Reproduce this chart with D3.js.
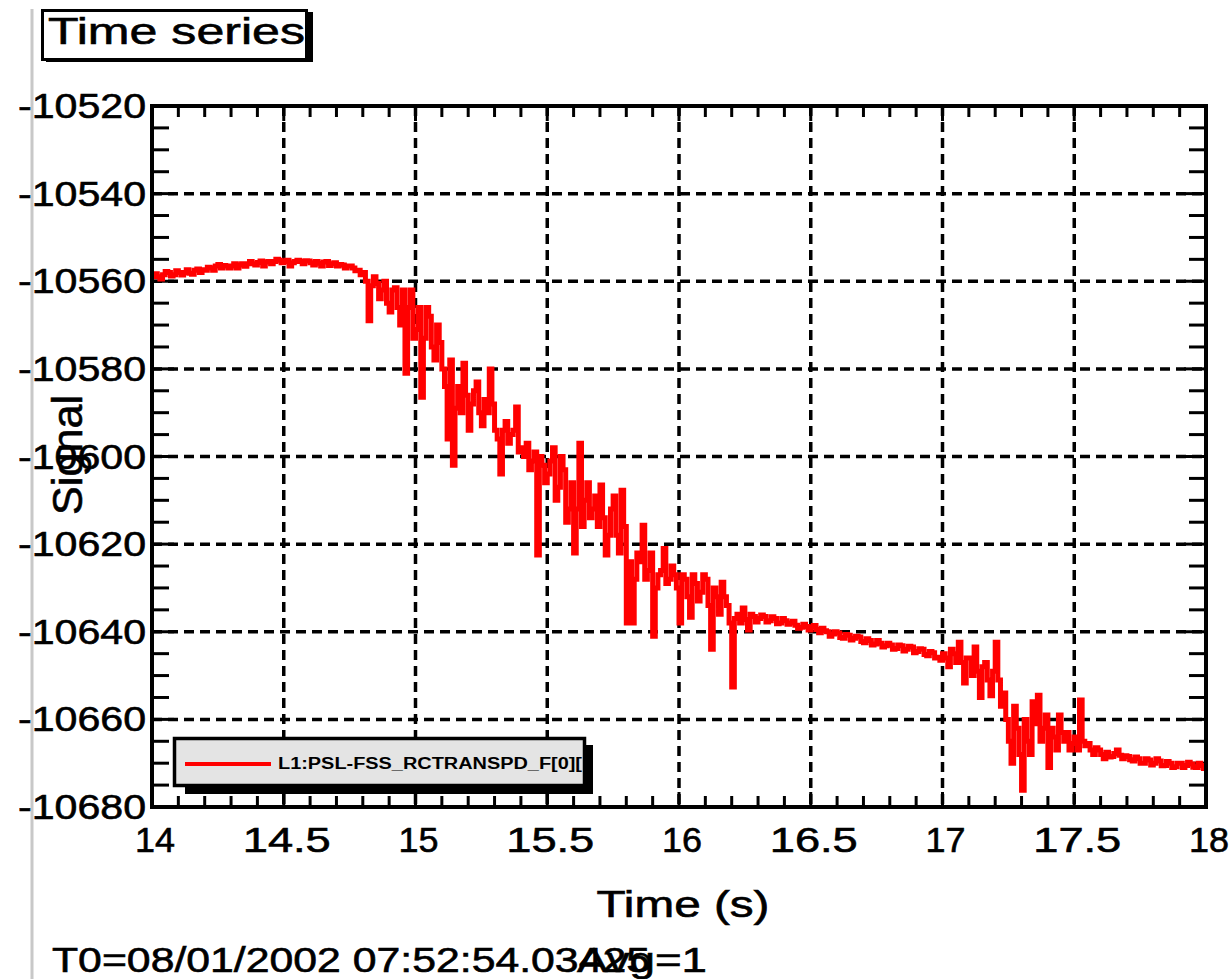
<!DOCTYPE html>
<html>
<head>
<meta charset="utf-8">
<script src="https://cdn.jsdelivr.net/npm/d3@7"></script>
<style>
  html, body { margin: 0; padding: 0; background: #fff; }
  svg { display: block; }
  text { font-family: "Liberation Sans", Arial, Helvetica, sans-serif; fill: #000; }
</style>
</head>
<body>
<svg id="chart" width="1230" height="979"></svg>
<script>
// ---------------- data ----------------
const titleText = "Time series";
const xTitle = "Time (s)";
const yTitle = "Signal";
const legendLabel = "L1:PSL-FSS_RCTRANSPD_F[0][";
const footerT0 = "T0=08/01/2002 07:52:54.03425";
const footerAvg = "Avg=1";

const xMajorTicks = [14, 14.5, 15, 15.5, 16, 16.5, 17, 17.5, 18];
const xTickLabels = ["14", "14.5", "15", "15.5", "16", "16.5", "17", "17.5", "18"];
const yMajorTicks = [-10520, -10540, -10560, -10580, -10600, -10620, -10640, -10660, -10680];
const yTickLabels = ["-10520", "-10540", "-10560", "-10580", "-10600", "-10620", "-10640", "-10660", "-10680"];

const tStart = 14.0;   // first sample time (s)
const tStep = 0.02;    // sample spacing (s)
// samples at tStart + i*tStep
const signal = [
  -10559, -10559, -10558.5, -10558, -10558.5, -10558, -10558, -10558.2, -10557.5, -10558,
  -10557.5, -10557, -10556.5, -10557, -10556.5, -10556.5, -10557, -10556, -10556, -10556,
  -10555.7, -10556.5, -10555.5, -10555.5, -10555.2, -10555.5, -10556.5, -10555.5, -10555.5, -10555.3,
  -10555.8, -10555.5, -10556.5, -10555.5, -10556, -10556.5, -10556.3, -10556.5, -10557, -10557.5,
  -10558, -10569, -10559, -10564, -10560, -10567, -10561.5, -10570, -10581, -10562,
  -10571, -10586.5, -10566, -10575, -10570, -10580, -10596, -10602, -10584, -10578.7,
  -10594, -10585, -10590, -10587, -10580, -10594, -10604, -10592, -10595, -10588.7,
  -10598, -10597, -10601, -10622.5, -10602, -10604, -10598, -10607, -10603, -10612,
  -10622, -10597, -10610, -10614, -10609, -10606.5, -10622.5, -10612, -10618, -10607.7,
  -10638, -10638, -10622, -10615.7, -10626, -10641, -10627, -10621, -10628, -10627,
  -10638, -10628, -10636.7, -10629, -10631, -10628, -10644, -10632, -10628.7, -10634,
  -10652.6, -10636, -10634.6, -10639.6, -10636.5, -10637, -10636.5, -10637.5, -10637, -10638,
  -10637.5, -10638, -10638.5, -10639, -10638.8, -10639, -10639.5, -10639.2, -10640, -10640.5,
  -10640.3, -10641.5, -10640.8, -10641.5, -10641.2, -10642.5, -10642, -10642.8, -10642.6, -10643.2,
  -10643, -10643.8, -10643.2, -10644, -10643.5, -10644.5, -10644, -10645.5, -10644.8, -10645.8,
  -10645, -10648, -10645, -10642.4, -10651.7, -10646, -10643.5, -10655, -10647, -10654.6,
  -10642.4, -10657, -10660, -10670, -10662, -10676.2, -10665, -10656, -10654.5, -10662,
  -10671, -10664, -10659, -10665, -10667, -10664, -10655.6, -10666, -10667, -10666.5,
  -10668, -10667.5, -10668.5, -10667, -10669, -10668.5, -10669.5, -10669, -10670, -10669.3,
  -10670, -10669.5, -10670.5, -10670, -10670.8, -10670, -10670.5, -10670.2, -10671, -10670.5,
  -10670.5
];
// in-between samples at tStart + (i+0.5)*tStep
const signalMid = [
  -10558.3, -10559.5, -10557.8, -10558.8, -10557.6, -10558.6, -10557.4, -10558.4, -10557.2, -10557.4,
  -10556.8, -10557.5, -10556.2, -10556.4, -10557, -10556, -10556.3, -10556.6, -10555.5, -10556.3,
  -10555.4, -10555.6, -10556, -10555, -10555.8, -10555.2, -10555.8, -10555.2, -10556, -10555.4,
  -10556.3, -10555.9, -10555.6, -10556.4, -10555.8, -10556.2, -10557, -10556.5, -10557.6, -10558.5,
  -10560, -10561, -10560.5, -10562, -10565, -10562, -10566, -10562, -10566, -10573,
  -10566, -10573, -10568, -10578, -10574, -10584, -10578, -10589, -10590, -10586,
  -10588, -10583, -10593, -10590, -10588, -10596, -10594, -10597, -10594, -10599,
  -10600, -10603, -10599, -10600, -10606, -10601, -10610, -10600, -10615, -10606,
  -10612, -10616, -10606, -10612, -10616, -10614, -10618, -10609, -10622, -10616,
  -10624, -10628, -10624, -10628, -10622, -10630, -10626, -10629, -10625, -10630,
  -10627, -10632, -10627, -10633, -10627, -10634, -10630, -10636, -10632, -10638,
  -10637, -10638, -10637.2, -10636, -10637.8, -10636.2, -10637.8, -10636.6, -10638.2, -10637,
  -10638.3, -10637.6, -10639.2, -10638.3, -10639.6, -10638.6, -10640.2, -10639.8, -10641, -10640,
  -10641.3, -10640.6, -10641.9, -10641, -10642.2, -10641.6, -10643, -10642, -10643.5, -10642.6,
  -10644, -10643, -10644.4, -10643.3, -10644.8, -10643.9, -10645.2, -10644.5, -10646, -10646.5,
  -10646, -10644, -10647, -10647, -10646, -10650, -10649, -10648, -10651, -10649,
  -10651, -10654, -10665, -10657, -10668, -10660, -10668, -10661, -10665, -10659,
  -10662, -10667, -10663, -10663, -10665.5, -10667, -10665, -10665.5, -10668, -10667,
  -10669, -10668.6, -10667.8, -10668.2, -10668.3, -10669.2, -10668.6, -10670, -10669, -10670.4,
  -10669, -10670.6, -10669.6, -10671, -10670, -10671, -10669.8, -10670.9, -10670, -10671.2
];

// ---------------- layout ----------------
const svg = d3.select("#chart");
const plot = { left: 152, right: 1206, top: 106, bottom: 807 };

const x = d3.scaleLinear().domain([14, 18]).range([plot.left, plot.right]);
const y = d3.scaleLinear().domain([-10680, -10520]).range([plot.bottom, plot.top]);

const points = [];
signal.forEach((v, i) => {
  points.push({ t: tStart + i * tStep, v });
  if (i < signalMid.length) points.push({ t: tStart + (i + 0.5) * tStep, v: signalMid[i] });
});

// left gray page line
svg.append("line")
  .attr("x1", 32).attr("x2", 32).attr("y1", 9).attr("y2", 979)
  .attr("stroke", "#c8c8c8").attr("stroke-width", 3);

// clips
const defs = svg.append("defs");
defs.append("clipPath").attr("id", "plotclip")
  .append("rect")
  .attr("x", plot.left).attr("y", plot.top)
  .attr("width", plot.right - plot.left).attr("height", plot.bottom - plot.top);
defs.append("clipPath").attr("id", "legclip")
  .append("rect").attr("x", 175).attr("y", 738).attr("width", 409).attr("height", 47);

// grid (dashed)
const grid = svg.append("g");
grid.selectAll("line.gx").data(xMajorTicks.slice(1, -1)).join("line")
  .attr("x1", d => x(d)).attr("x2", d => x(d))
  .attr("y1", plot.top).attr("y2", plot.bottom)
  .attr("stroke", "#000").attr("stroke-width", 3.5).attr("stroke-dasharray", "10,6");
grid.selectAll("line.gy").data(yMajorTicks.slice(1, -1)).join("line")
  .attr("y1", d => y(d)).attr("y2", d => y(d))
  .attr("x1", plot.left).attr("x2", plot.right)
  .attr("stroke", "#000").attr("stroke-width", 3.5).attr("stroke-dasharray", "10,6");

// ticks (all four sides, inward)
const xMinor = d3.range(14, 18.0001, 0.1);
const yMinor = d3.range(-10680, -10519.99, 5);
const isMajorX = d => Math.abs(d * 2 - Math.round(d * 2)) < 1e-6;
const isMajorY = d => Math.abs(d / 20 - Math.round(d / 20)) < 1e-6;
const ticks = svg.append("g").attr("stroke", "#000").attr("stroke-width", 3);
xMinor.forEach(d => {
  const len = isMajorX(d) ? 15 : 11;
  ticks.append("line").attr("x1", x(d)).attr("x2", x(d)).attr("y1", plot.bottom).attr("y2", plot.bottom - len);
  ticks.append("line").attr("x1", x(d)).attr("x2", x(d)).attr("y1", plot.top).attr("y2", plot.top + len);
});
yMinor.forEach(d => {
  const len = isMajorY(d) ? 22 : 17;
  ticks.append("line").attr("y1", y(d)).attr("y2", y(d)).attr("x1", plot.left).attr("x2", plot.left + len);
  ticks.append("line").attr("y1", y(d)).attr("y2", y(d)).attr("x1", plot.right).attr("x2", plot.right - len);
});

// data line
const line = d3.line().x(d => x(d.t)).y(d => y(d.v)).curve(d3.curveStepAfter);
svg.append("path")
  .datum(points)
  .attr("clip-path", "url(#plotclip)")
  .attr("d", line)
  .attr("fill", "none")
  .attr("stroke", "#ff0000")
  .attr("stroke-width", 5)
  .attr("stroke-linejoin", "miter");

// frame
svg.append("rect")
  .attr("x", plot.left).attr("y", plot.top)
  .attr("width", plot.right - plot.left).attr("height", plot.bottom - plot.top)
  .attr("fill", "none").attr("stroke", "#000").attr("stroke-width", 4);

// y tick labels
svg.append("g").selectAll("text").data(yMajorTicks).join("text")
  .attr("x", 18).attr("y", d => y(d) + 12)
  .attr("font-size", 35)
  .attr("stroke", "#000").attr("stroke-width", 0.6)
  .attr("textLength", 128).attr("lengthAdjust", "spacingAndGlyphs")
  .text((d, i) => yTickLabels[i]);

// x tick labels
svg.append("g").selectAll("text").data(xMajorTicks).join("text")
  .attr("x", d => x(d) + 3).attr("y", 852)
  .attr("text-anchor", "middle")
  .attr("font-size", 35)
  .attr("stroke", "#000").attr("stroke-width", 0.6)
  .attr("textLength", (d, i) => xTickLabels[i].length > 2 ? 88 : 40)
  .attr("lengthAdjust", "spacingAndGlyphs")
  .text((d, i) => xTickLabels[i]);

// axis titles
svg.append("text")
  .attr("x", 683).attr("y", 917).attr("text-anchor", "middle")
  .attr("font-size", 36)
  .attr("stroke", "#000").attr("stroke-width", 0.6)
  .attr("textLength", 173).attr("lengthAdjust", "spacingAndGlyphs")
  .text(xTitle);
svg.append("text")
  .attr("transform", "translate(82,455) rotate(-90)")
  .attr("text-anchor", "middle")
  .attr("font-size", 42)
  .attr("stroke", "#000").attr("stroke-width", 0.6)
  .attr("textLength", 120).attr("lengthAdjust", "spacingAndGlyphs")
  .text(yTitle);

// legend
svg.append("rect").attr("x", 185).attr("y", 745).attr("width", 408).attr("height", 49).attr("fill", "#000");
svg.append("rect").attr("x", 174.5).attr("y", 738.5).attr("width", 410).attr("height", 47)
  .attr("fill", "#e4e4e4").attr("stroke", "#000").attr("stroke-width", 3.5);
svg.append("line").attr("x1", 185).attr("x2", 271).attr("y1", 764).attr("y2", 764)
  .attr("stroke", "#ff0000").attr("stroke-width", 4);
svg.append("text")
  .attr("clip-path", "url(#legclip)")
  .attr("x", 278).attr("y", 769)
  .attr("font-size", 16).attr("font-weight", "bold")
  .attr("textLength", 304).attr("lengthAdjust", "spacingAndGlyphs")
  .text(legendLabel);

// title box
svg.append("rect").attr("x", 46).attr("y", 12).attr("width", 267).attr("height", 50).attr("fill", "#000");
svg.append("rect").attr("x", 42.5).attr("y", 10.5).attr("width", 264).attr("height", 49)
  .attr("fill", "#fff").attr("stroke", "#000").attr("stroke-width", 3);
svg.append("text")
  .attr("x", 48).attr("y", 44)
  .attr("font-size", 37)
  .attr("stroke", "#000").attr("stroke-width", 0.6)
  .attr("textLength", 257).attr("lengthAdjust", "spacingAndGlyphs")
  .text(titleText);

// footer
svg.append("text")
  .attr("x", 52).attr("y", 972)
  .attr("font-size", 35)
  .attr("stroke", "#000").attr("stroke-width", 0.6)
  .attr("textLength", 598).attr("lengthAdjust", "spacingAndGlyphs")
  .text(footerT0);
svg.append("text")
  .attr("x", 577).attr("y", 972)
  .attr("font-size", 35)
  .attr("stroke", "#000").attr("stroke-width", 0.6)
  .attr("textLength", 130).attr("lengthAdjust", "spacingAndGlyphs")
  .text(footerAvg);
</script>
</body>
</html>
